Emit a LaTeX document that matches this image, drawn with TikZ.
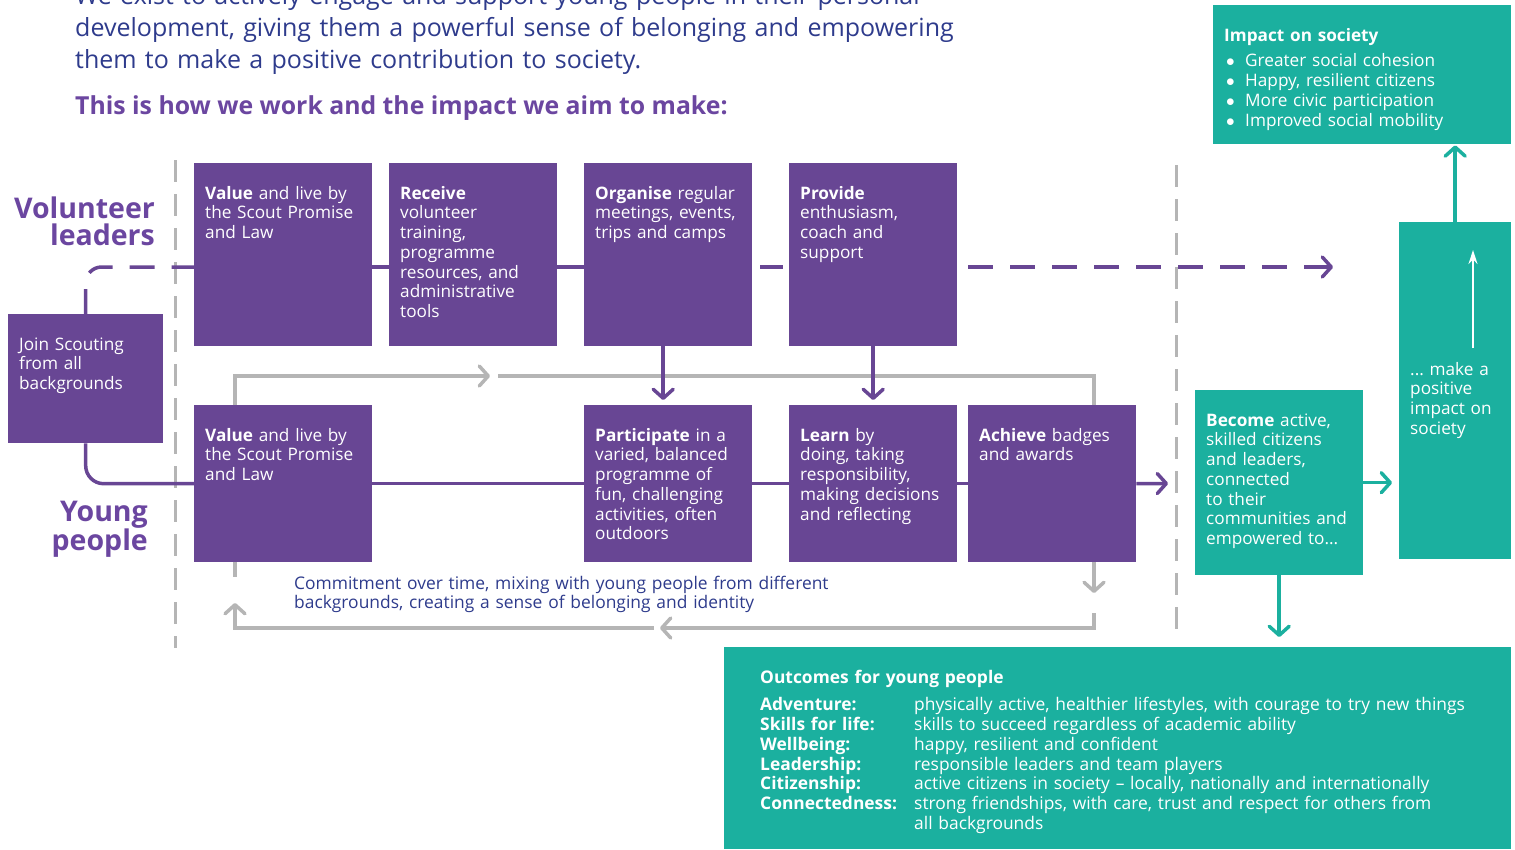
\documentclass[tikz,border=0pt]{standalone}
\usepackage{fontspec}
\setmainfont{Open Sans}
\usetikzlibrary{arrows.meta}
\frenchspacing

\definecolor{scoutpurple}{HTML}{684694}
\definecolor{headpurple}{HTML}{6B46A0}
\definecolor{scoutteal}{HTML}{1BB09F}
\definecolor{loopgrey}{HTML}{B5B5B5}
\definecolor{navytext}{HTML}{2E3B8C}

\newcommand{\boxfont}{\fontsize{17.2}{19.7}\selectfont}
\newcommand{\smallbody}{\fontsize{17.4}{19.7}\selectfont}
\newcommand{\impactitem}{\makebox[21pt][l]{\hspace{2pt}$\bullet$}}

\begin{document}
\begin{tikzpicture}[x=1pt, y=-1pt,
  pbox/.style={fill=scoutpurple, text=white, anchor=north west, inner xsep=11pt,
    inner ysep=0pt, align=left, text height=36pt, font=\boxfont},
  tbox/.style={pbox, fill=scoutteal},
  vrow/.style={pbox, text depth=147pt},
  yrow/.style={pbox, text depth=121pt},
  vline/.style={scoutpurple, line width=3.5pt},
  vdash/.style={vline, dash pattern=on 25pt off 17pt},
  tline/.style={scoutteal, line width=3.5pt},
  gline/.style={loopgrey, line width=3.5pt},
  divider/.style={loopgrey, line width=3pt, dash pattern=on 22pt off 12pt},
  barb/.style={-{Straight Barb[length=9pt, width=20pt, round]}},
  sidelabel/.style={anchor=base east, align=right, text width=200pt, inner sep=0pt,
    text=headpurple, font=\fontsize{28.5}{27.5}\selectfont\bfseries}
]
\useasboundingbox (0,0) rectangle (1515,849);

% heading text
\node[anchor=base west, align=left, text width=1000pt, inner sep=0pt, text=navytext,
  font=\fontsize{25}{32}\selectfont] (intro) at (75,4)
  {We exist to actively engage and support young people in their personal\\
   development, giving them a powerful sense of belonging and empowering\\
   them to make a positive contribution to society.};
\node[anchor=base west, inner sep=0pt, text=headpurple,
  font=\fontsize{24.8}{28}\selectfont\bfseries] (howwework) at (75,114)
  {This is how we work and the impact we aim to make:};

\node[sidelabel] (volabel) at (155,218) {Volunteer\\leaders};
\node[sidelabel] (yplabel) at (148,521) {Young\\people};

% dividers
\draw[divider] (175,160) -- (175,648);
\draw[divider] (1176,165) -- (1176,630);

% boxes
\node[pbox, text width=133pt, text depth=93pt] (join) at (8,314)
  {Join Scouting\\from all\\backgrounds};

\node[vrow, text width=156pt] (v1) at (194,163)
  {\textbf{Value} and live by\\the Scout Promise\\and Law};
\node[vrow, text width=146pt] (v2) at (389,163)
  {\textbf{Receive}\\volunteer\\training,\\programme\\resources, and\\administrative\\tools};
\node[vrow, text width=146pt] (v3) at (584,163)
  {\textbf{Organise} regular\\meetings, events,\\trips and camps};
\node[vrow, text width=146pt] (v4) at (789,163)
  {\textbf{Provide}\\enthusiasm,\\coach and\\support};

\node[yrow, text width=156pt] (y1) at (194,405)
  {\textbf{Value} and live by\\the Scout Promise\\and Law};
\node[yrow, text width=146pt] (y2) at (584,405)
  {\textbf{Participate} in a\\varied, balanced\\programme of\\fun, challenging\\activities, often\\outdoors};
\node[yrow, text width=146pt] (y3) at (789,405)
  {\textbf{Learn} by\\doing, taking\\responsibility,\\making decisions\\and reflecting};
\node[yrow, text width=146pt] (y4) at (968,405)
  {\textbf{Achieve} badges\\and awards};

\node[tbox, text width=146pt, text depth=149pt] (become) at (1195,390)
  {\textbf{Become} active,\\skilled citizens\\and leaders,\\connected\\to their\\communities and\\empowered to...};
\node[tbox, text width=90pt, text height=153pt, text depth=184pt] (make) at (1399,222)
  {... make a\\positive\\impact on\\society};
\node[tbox, text width=276pt, text depth=103pt] (impact) at (1213,5)
  {\textbf{Impact on society}\\[6pt]
   \impactitem Greater social cohesion\\
   \impactitem Happy, resilient citizens\\
   \impactitem More civic participation\\
   \impactitem Improved social mobility};
\node[tbox, inner xsep=36pt, text width=715pt, text depth=166pt, font=\smallbody] (outcomes) at (724,647)
  {\textbf{Outcomes for young people}\\[8pt]
   \begin{tabular}[t]{@{}p{154pt}@{}l@{}}
   \textbf{Adventure:} & physically active, healthier lifestyles, with courage to try new things\\
   \textbf{Skills for life:} & skills to succeed regardless of academic ability\\
   \textbf{Wellbeing:} & happy, resilient and confident\\
   \textbf{Leadership:} & responsible leaders and team players\\
   \textbf{Citizenship:} & active citizens in society -- locally, nationally and internationally\\
   \textbf{Connectedness:} & strong friendships, with care, trust and respect for others from\\
    & all backgrounds
   \end{tabular}};

\node[anchor=base west, align=left, text width=600pt, inner sep=0pt, text=navytext,
  font=\smallbody] (commitment) at (294,589)
  {Commitment over time, mixing with young people from different\\
   backgrounds, creating a sense of belonging and identity};

% loop ends
\coordinate (toptip) at (490,376);
\coordinate (topgo) at (498,376);
\coordinate (downtip) at (1094,593);
\coordinate (downgo) at (1094,613);
\coordinate (lefttip) at (660,628);
\coordinate (leftgo) at (654,628);
\coordinate (uptip) at (235,603);
\coordinate (stubend) at (235,577);
\coordinate (vend) at (1333,267);
\coordinate (yend) at (1168,483.5);
\coordinate (wa) at (1473,348);
\coordinate (wb) at (1473,250);

% grey loop
\draw[gline, barb] ([xshift=41pt]y1.north west) |- (toptip);
\draw[gline] (topgo) -| ([xshift=126pt]y4.north west);
\draw[gline, barb] ([xshift=126pt]y4.south west) -- (downtip);
\draw[gline, barb] (downgo) |- (lefttip);
\draw[gline, barb] (leftgo) -| (uptip);
\draw[gline] ([xshift=41pt]y1.south west) -- (stubend);

% volunteer leaders
\draw[vdash, rounded corners=16pt] (join.north) |- ([yshift=-104pt]v1.north west);
\draw[vline] ([yshift=-104pt]v1.north east) -- ([yshift=-104pt]v2.north west);
\draw[vline] ([yshift=-104pt]v2.north east) -- ([yshift=-104pt]v3.north west);
\draw[vline, shorten <=8pt, shorten >=6pt] ([yshift=-104pt]v3.north east) -- ([yshift=-104pt]v4.north west);
\draw[vdash, barb, shorten <=11pt] ([yshift=-104pt]v4.north east) -- (vend);
\draw[vline, barb] ([xshift=-5pt]v3.south) -- ([xshift=-5pt,yshift=5pt]y2.north);
\draw[vline, barb] (v4.south) -- ([yshift=5pt]y3.north);

% young people
\draw[vline, rounded corners=18pt] (join.south) |- (y1.west);
\draw[vline] (y1) -- (y2);
\draw[vline] (y2) -- (y3);
\draw[vline] (y3) -- (y4);
\draw[vline, barb] (y4) -- (yend);

% outcomes and impact
\draw[tline, barb, shorten >=1pt] (make.north) -- (make.north |- impact.south);
\draw[tline, barb, shorten >=7pt] (become.east) -- (become.east -| make.west);
\draw[tline, barb, shorten >=10pt] (become.south) -- (become.south |- outcomes.north);
\draw[white, line width=1.5pt, -{Stealth[length=14pt, width=9pt]}] (wa) -- (wb);
\end{tikzpicture}
\end{document}
